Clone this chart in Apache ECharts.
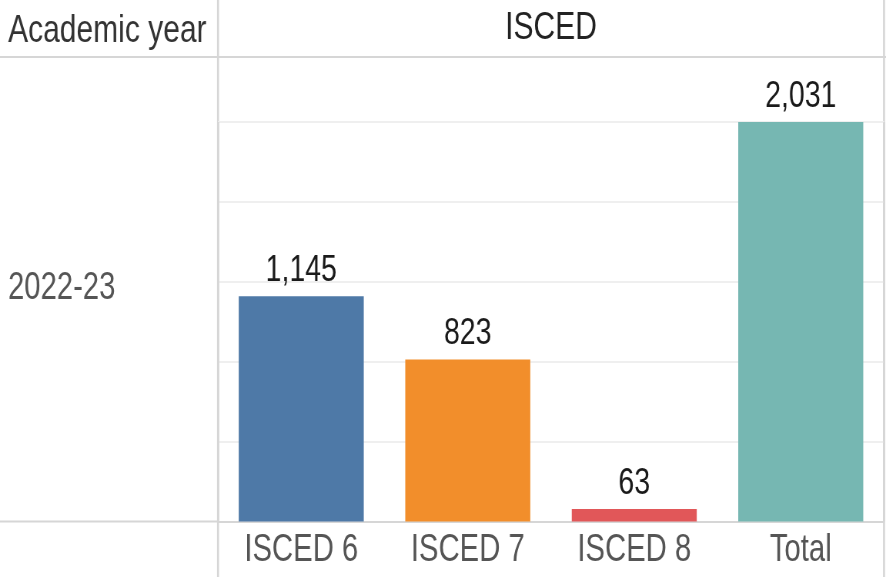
<!DOCTYPE html>
<html>
<head>
<meta charset="utf-8">
<script src="https://cdn.jsdelivr.net/npm/echarts@6/dist/echarts.min.js"></script>
<style>
html,body{margin:0;padding:0;background:#fff;overflow:hidden}
#wrap{width:886px;height:577px;overflow:hidden;position:relative}
#c{width:1151px;height:577px;transform:scaleX(0.76977);transform-origin:0 0;position:absolute;left:0;top:0}
</style>
</head>
<body>
<div id="wrap"><div id="c"></div></div>
<script>
const categories = ['ISCED 6', 'ISCED 7', 'ISCED 8', 'Total'];
const values = [1145, 823, 63, 2031];
const barColors = ['#4e79a7', '#f28e2b', '#e15759', '#76b7b2'];
const rowLabel = '2022-23';
const rowHeader = 'Academic year';
const colHeader = 'ISCED';

// The reference uses a narrow face; text is drawn in Liberation Sans and the
// whole chart is horizontally condensed by K via CSS.
const K = 886 / 1151;
const X = v => v / K; // screen x -> chart x
const FONT = '"Liberation Sans", Arial, sans-serif';
const border = '#d6d6d6';
const vW = 2 / K;

const chart = echarts.init(document.getElementById('c'), null, {renderer: 'canvas', width: 1151, height: 577});
chart.setOption({
  animation: false,
  backgroundColor: '#fff',
  grid: {left: X(218), right: 1151 - X(884), top: 122, bottom: 55.5, containLabel: false},
  xAxis: {
    type: 'category',
    data: categories,
    axisLine: {show: true, lineStyle: {color: border, width: 2}},
    axisTick: {show: false},
    axisLabel: {color: '#555', fontFamily: FONT, fontSize: 38, margin: 10},
    splitLine: {show: true, interval: function (i) { return i === 3; }, lineStyle: {color: border, width: vW}}
  },
  yAxis: {
    type: 'value',
    min: 0,
    max: 2031,
    interval: 2031 / 5,
    axisLine: {show: false},
    axisTick: {show: false},
    axisLabel: {show: false},
    splitLine: {lineStyle: {color: '#efefef', width: 2}}
  },
  graphic: [
    {type: 'line', shape: {x1: 0, y1: 57, x2: 1151, y2: 57}, style: {stroke: border, lineWidth: 2}},
    {type: 'line', shape: {x1: 0, y1: 521.5, x2: X(218), y2: 521.5}, style: {stroke: border, lineWidth: 2}},
    {type: 'line', shape: {x1: X(218), y1: 0, x2: X(218), y2: 577}, style: {stroke: border, lineWidth: vW}},
    {type: 'line', shape: {x1: X(884), y1: 0, x2: X(884), y2: 577}, style: {stroke: border, lineWidth: vW}},
    {type: 'text', x: X(8), y: 31, style: {text: rowHeader, fill: '#333', font: '39px ' + FONT, align: 'left', verticalAlign: 'middle'}},
    {type: 'text', x: X(551), y: 28, style: {text: colHeader, fill: '#222', font: '39px ' + FONT, align: 'center', verticalAlign: 'middle'}},
    {type: 'text', x: X(8), y: 289, style: {text: rowLabel, fill: '#555', font: '38px ' + FONT, align: 'left', verticalAlign: 'middle'}}
  ],
  series: [{
    type: 'bar',
    barWidth: X(125),
    data: values.map((v, i) => ({value: v, itemStyle: {color: barColors[i]}})),
    label: {
      show: true,
      position: 'top',
      distance: 7,
      color: '#1a1a1a',
      fontFamily: FONT,
      fontSize: 37,
      formatter: p => p.value.toLocaleString('en-US')
    }
  }]
});
</script>
</body>
</html>
